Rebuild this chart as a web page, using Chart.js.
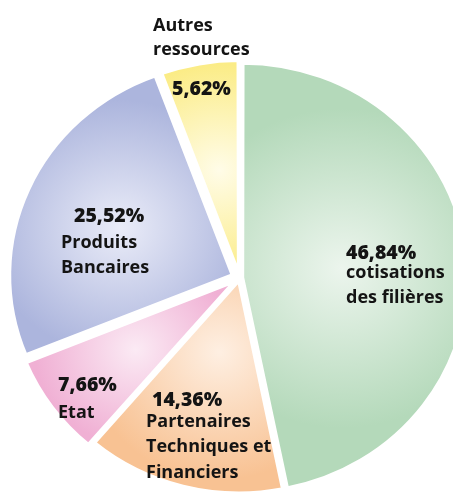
<!DOCTYPE html>
<html><head><meta charset="utf-8">
<script src="https://cdn.jsdelivr.net/npm/chart.js@4/dist/chart.umd.min.js"></script>
<style>html,body{margin:0;padding:0;background:#fff;overflow:hidden}
#wrap{position:relative;width:453px;height:492px}</style>
</head><body><div id="wrap"><canvas id="c" width="453" height="492"></canvas></div>
<script>
// ---- data ----
const categories = ["cotisations des filières", "Partenaires Techniques et Financiers", "Etat", "Produits Bancaires", "Autres ressources"];
const shares = [46.84, 14.36, 7.66, 25.52, 5.62];
const labelLines = [["cotisations", "des filières"], ["Partenaires", "Techniques et", "Financiers"], ["Etat"], ["Produits", "Bancaires"], ["Autres", "ressources"]];

// ---- styles ----
const edgeColors = ['rgb(180,217,186)', 'rgb(248,194,147)', 'rgb(240,176,212)', 'rgb(172,181,221)', 'rgb(251,236,134)'];
const centerColors = ['rgb(236,245,237)', 'rgb(254,239,226)', 'rgb(251,234,244)', 'rgb(234,236,248)', 'rgb(255,252,232)'];
const sliceOffsets = [10, 8, 20, 28, 12];
const glowPos = [0.45, 0.35, 0.55, 0.55, 0.5];
const glowSize = [0.75, 0.6, 0.45, 0.6, 0.5];
const RADIUS = 213;
const X_STRETCH = 1.05;
const labelLayout = [
  {pct:[346,259], lines:[[346,278],[346,303]]},
  {pct:[152,406], lines:[[146,427],[146,452],[146,478]]},
  {pct:[58,391], lines:[[58,418]]},
  {pct:[74,222], lines:[[61,248],[61,273]]},
  {pct:[172,95], lines:[[153,31],[153,55]]}
];
const TEXT_FONT = "700 18px 'Open Sans', 'Liberation Sans', sans-serif";
const PCT_FONT = "800 19.5px 'Open Sans', 'Liberation Sans', sans-serif";

function fmt(v){ return v.toFixed(2).replace('.', ',') + '%'; }

function sliceGradient(ctx){
  const i = ctx.dataIndex;
  const chart = ctx.chart, area = chart.chartArea;
  if (!area || i === undefined) return edgeColors[i] || '#ccc';
  const cx = (area.left + area.right) / 2, cy = (area.top + area.bottom) / 2;
  const total = shares.reduce((a, b) => a + b, 0);
  let start = 0; for (let k = 0; k < i; k++) start += shares[k];
  const mid = (start + shares[i] / 2) / total * 2 * Math.PI - Math.PI / 2;
  const gx = cx + Math.cos(mid) * RADIUS * glowPos[i];
  const gy = cy + Math.sin(mid) * RADIUS * glowPos[i];
  const g = chart.ctx.createRadialGradient(gx, gy, 0, gx, gy, RADIUS * glowSize[i]);
  g.addColorStop(0, centerColors[i]);
  g.addColorStop(1, edgeColors[i]);
  return g;
}

const pieLook = {
  id: 'pieLook',
  beforeDatasetsDraw(chart){
    const c = chart.ctx, a = chart.chartArea;
    const cx = (a.left + a.right) / 2;
    c.save();
    c.translate(cx, 0); c.scale(X_STRETCH, 1); c.translate(-cx, 0);
  },
  afterDatasetsDraw(chart){
    const c = chart.ctx;
    c.restore();
    c.save();
    c.fillStyle = '#141414';
    c.textAlign = 'left';
    c.textBaseline = 'alphabetic';
    shares.forEach((v, i) => {
      const L = labelLayout[i];
      c.font = PCT_FONT;
      c.fillText(fmt(v), L.pct[0], L.pct[1]);
      c.font = TEXT_FONT;
      labelLines[i].forEach((t, j) => c.fillText(t, L.lines[j][0], L.lines[j][1]));
    });
    c.restore();
  }
};

new Chart(document.getElementById('c'), {
  type: 'pie',
  data: {
    labels: categories,
    datasets: [{
      data: shares,
      backgroundColor: sliceGradient,
      borderColor: '#ffffff',
      borderWidth: 4,
      offset: sliceOffsets,
      hoverOffset: 0
    }]
  },
  options: {
    responsive: false,
    animation: false,
    events: [],
    radius: RADIUS,
    layout: { padding: { left: 26, top: 64, right: 0, bottom: 0 } },
    plugins: { legend: { display: false }, tooltip: { enabled: false } }
  },
  plugins: [pieLook]
});
</script></body></html>
